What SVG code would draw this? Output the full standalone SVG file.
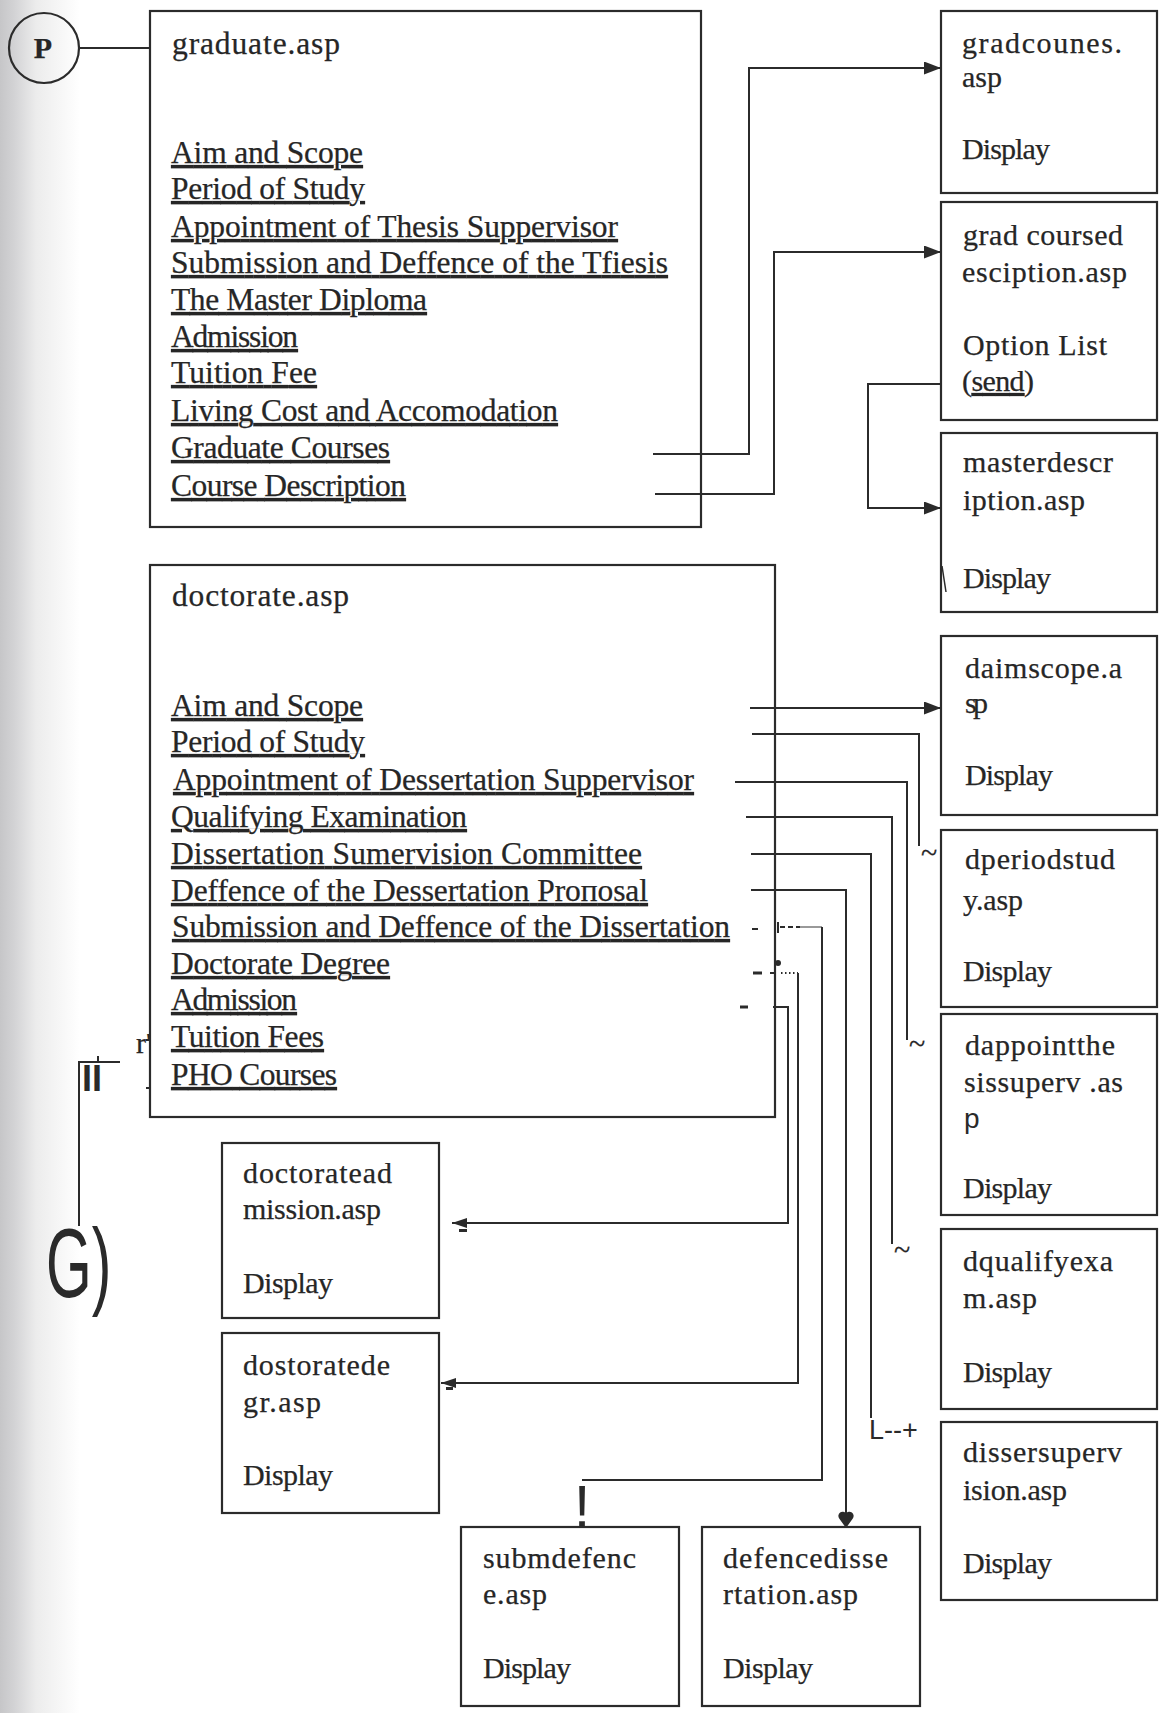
<svg xmlns="http://www.w3.org/2000/svg" width="1160" height="1713" viewBox="0 0 1160 1713">
  <defs>
    <linearGradient id="edge" x1="0" y1="0" x2="1" y2="0">
      <stop offset="0" stop-color="#c6c6c8"/>
      <stop offset="0.18" stop-color="#d3d3d5"/>
      <stop offset="0.45" stop-color="#ececec"/>
      <stop offset="1" stop-color="#ffffff"/>
    </linearGradient>
    <marker id="arr" markerUnits="userSpaceOnUse" markerWidth="17" markerHeight="13" refX="17" refY="6.5" orient="auto">
      <path d="M0,0 L17,6.5 L0,13 Z" fill="#2b2b2b"/>
    </marker>
    <marker id="arrS" markerUnits="userSpaceOnUse" markerWidth="15" markerHeight="10" refX="15" refY="5" orient="auto">
      <path d="M0,0 L15,5 L0,10 Z" fill="#2b2b2b"/>
    </marker>
    <style>
      .box { fill: none; stroke: #2b2b2b; stroke-width: 2.2; }
      .wire { fill: none; stroke: #2b2b2b; stroke-width: 2; }
      .t { font-family: "Liberation Serif", "Times New Roman", serif; font-size: 30px; fill: #262626; stroke: #262626; stroke-width: 0.25; }
      .lb { font-size: 31.5px; }
      .u { text-decoration: underline; }
      .sans { font-family: "Liberation Sans", Arial, sans-serif; fill: #2a2a2a; }
    </style>
  </defs>

  <rect width="1160" height="1713" fill="#ffffff"/>
  <rect x="0" y="0" width="80" height="1713" fill="url(#edge)"/>

  <!-- connectors -->
  <g id="connectors">
    <path class="wire" d="M79,48 H150"/>
    <!-- graduate.asp links -->
    <path class="wire" d="M653,454 H749 V68 H941" marker-end="url(#arr)"/>
    <path class="wire" d="M655,494 H774 V252 H941" marker-end="url(#arr)"/>
    <path class="wire" d="M941,384 H868 V508 H941" marker-end="url(#arr)"/>

    <!-- doctorate.asp links -->
    <path class="wire" d="M750,708 H941" marker-end="url(#arr)"/>
    <path class="wire" d="M752,734 H919 V846"/>
    <text class="t" x="921" y="863" font-size="26">~</text>
    <path class="wire" d="M735,782 H907 V1040"/>
    <text class="t" x="909" y="1054" font-size="26">~</text>
    <path class="wire" d="M746,817 H892 V1244"/>
    <text class="t" x="894" y="1260" font-size="26">~</text>
    <path class="wire" d="M751,854 H871 V1418"/>
    <text class="sans" x="869" y="1439" font-size="27">L--+</text>
    <path class="wire" d="M751,890 H846 V1514"/>
    <path d="M846,1528 L839.2,1518.5 A3.9,3.9 0 1 1 846,1513.5 A3.9,3.9 0 1 1 852.8,1518.5 Z" fill="#2b2b2b"/>

    <path class="wire" d="M752,929 H758"/>
    <path class="wire" d="M778,922 V933"/>
    <path class="wire" d="M780,927 H800" stroke-dasharray="5 3"/>
    <path d="M800,927 H822" fill="none" stroke="#555" stroke-width="1.2"/>
    <path class="wire" d="M822,927 V1480 H582"/>
    <text class="sans" x="582" y="1527" font-size="60" text-anchor="middle">!</text>

    <path d="M753,973 H762" fill="none" stroke="#2b2b2b" stroke-width="3"/>
    <path class="wire" d="M770,973 H775"/>
    <circle cx="778" cy="963" r="3" fill="#2b2b2b"/>
    <path class="wire" d="M781,973 H798" stroke-dasharray="1.5 2.5"/>
    <path class="wire" d="M798,973 V1383 H441" marker-end="url(#arrS)"/>
    <path d="M446,1388.5 H453" stroke="#2b2b2b" stroke-width="3"/>

    <path d="M740,1007 H748" fill="none" stroke="#2b2b2b" stroke-width="3"/>
    <path class="wire" d="M773,1007 H788 V1223 H452" marker-end="url(#arrS)"/>
    <path d="M459,1230.5 H467" stroke="#2b2b2b" stroke-width="3"/>

    <!-- off-page link G -->
    <path class="wire" d="M78,1062 H120"/>
    <path class="wire" d="M98,1056 V1062"/>
    <path class="wire" d="M79,1062 V1226"/>
    <text class="sans" x="82" y="1091" font-size="36" font-weight="bold">II</text>
    <text class="sans" font-size="98" transform="translate(46,1297) scale(0.6,1)">G)</text>
    <text class="t" x="136" y="1053" font-size="13">r'</text>
    <path class="wire" d="M146,1040 H150 M146,1088 H150"/>
  </g>

  <!-- start marker P -->
  <g id="start-p">
    <circle cx="44" cy="48" r="35" fill="none" stroke="#2b2b2b" stroke-width="2.2"/>
    <text class="t" x="43" y="58" font-size="28" font-weight="bold" text-anchor="middle">P</text>
  </g>

  <g id="graduate">
    <rect class="box" x="150" y="11" width="551" height="516"/>
    <text class="t lb" x="172" y="54" textLength="168">graduate.asp</text>
    <text class="t lb u" x="171" y="163" textLength="192">Aim and Scope</text>
    <text class="t lb u" x="171" y="199" textLength="194">Period of Study</text>
    <text class="t lb u" x="171" y="237" textLength="447">Appointment of Thesis Suppervisor</text>
    <text class="t lb u" x="171" y="273" textLength="497">Submission and Deffence of the Tfiesis</text>
    <text class="t lb u" x="171" y="310" textLength="256">The Master Diploma</text>
    <text class="t lb u" x="171" y="347" textLength="127">Admission</text>
    <text class="t lb u" x="171" y="383" textLength="146">Tuition Fee</text>
    <text class="t lb u" x="171" y="421" textLength="387">Living Cost and Accomodation</text>
    <text class="t lb u" x="171" y="458" textLength="219">Graduate Courses</text>
    <text class="t lb u" x="171" y="496" textLength="235">Course Description</text>
  </g>

  <g id="doctorate">
    <rect class="box" x="150" y="565" width="625" height="552"/>
    <text class="t lb" x="172" y="606" textLength="177">doctorate.asp</text>
    <text class="t lb u" x="171" y="716" textLength="192">Aim and Scope</text>
    <text class="t lb u" x="171" y="752" textLength="194">Period of Study</text>
    <text class="t lb u" x="173" y="790" textLength="521">Appointment of Dessertation Suppervisor</text>
    <text class="t lb u" x="171" y="827" textLength="296">Qualifying Examination</text>
    <text class="t lb u" x="171" y="864" textLength="471">Dissertation Sumervision Committee</text>
    <text class="t lb u" x="171" y="901" textLength="477">Deffence of the Dessertation Proпosal</text>
    <text class="t lb u" x="172" y="937" textLength="558">Submission and Deffence of the Dissertation</text>
    <text class="t lb u" x="171" y="974" textLength="219">Doctorate Degree</text>
    <text class="t lb u" x="171" y="1010" textLength="126">Admission</text>
    <text class="t lb u" x="171" y="1047" textLength="153">Tuition Fees</text>
    <text class="t lb u" x="171" y="1085" textLength="166">PHO Courses</text>
  </g>

  <g id="gradcounes">
    <rect class="box" x="941" y="11" width="216" height="182"/>
    <text class="t" x="962" y="53" textLength="160">gradcounes.</text>
    <text class="t" x="962" y="87" textLength="40">asp</text>
    <text class="t" x="962" y="159" textLength="88">Display</text>
  </g>

  <g id="gradcoursedesciption">
    <rect class="box" x="941" y="202" width="216" height="218"/>
    <text class="t" x="963" y="245" textLength="160">grad coursed</text>
    <text class="t" x="962" y="282" textLength="165">esciption.asp</text>
    <text class="t" x="963" y="355" textLength="144">Option List</text>
    <text class="t" x="962" y="391" textLength="72">(<tspan class="u">send</tspan>)</text>
  </g>

  <g id="masterdescription">
    <rect class="box" x="941" y="433" width="216" height="179"/>
    <text class="t" x="963" y="472" textLength="150">masterdescr</text>
    <text class="t" x="963" y="510" textLength="122">iption.asp</text>
    <text class="t" x="963" y="588" textLength="88">Display</text>
    <path d="M942,566 L946,592" fill="none" stroke="#2b2b2b" stroke-width="1.5"/>
  </g>

  <g id="daimscope">
    <rect class="box" x="941" y="636" width="216" height="179"/>
    <text class="t" x="965" y="678" textLength="157">daimscope.a</text>
    <text class="t" x="965" y="713" textLength="23">sp</text>
    <text class="t" x="965" y="785" textLength="88">Display</text>
  </g>

  <g id="dperiodstudy">
    <rect class="box" x="941" y="830" width="216" height="177"/>
    <text class="t" x="965" y="869" textLength="150">dperiodstud</text>
    <text class="t" x="963" y="910" textLength="60">y.asp</text>
    <text class="t" x="963" y="981" textLength="89">Display</text>
  </g>

  <g id="dappointthesissuperv">
    <rect class="box" x="941" y="1014" width="216" height="201"/>
    <text class="t" x="965" y="1055" textLength="150">dappointthe</text>
    <text class="t" x="964" y="1092" textLength="159">sissuperv .as</text>
    <text class="sans" x="964" y="1128" font-size="28">p</text>
    <text class="t" x="963" y="1198" textLength="89">Display</text>
  </g>

  <g id="dqualifyexam">
    <rect class="box" x="941" y="1229" width="216" height="180"/>
    <text class="t" x="963" y="1271" textLength="150">dqualifyexa</text>
    <text class="t" x="963" y="1308" textLength="74">m.asp</text>
    <text class="t" x="963" y="1382" textLength="89">Display</text>
  </g>

  <g id="dissersupervision">
    <rect class="box" x="941" y="1422" width="216" height="178"/>
    <text class="t" x="963" y="1462" textLength="159">dissersuperv</text>
    <text class="t" x="963" y="1500" textLength="104">ision.asp</text>
    <text class="t" x="963" y="1573" textLength="89">Display</text>
  </g>

  <g id="doctorateadmission">
    <rect class="box" x="222" y="1143" width="217" height="175"/>
    <text class="t" x="243" y="1183" textLength="149">doctoratead</text>
    <text class="t" x="243" y="1219" textLength="138">mission.asp</text>
    <text class="t" x="243" y="1293" textLength="90">Display</text>
  </g>

  <g id="dostoratedegr">
    <rect class="box" x="222" y="1333" width="217" height="180"/>
    <text class="t" x="243" y="1375" textLength="147">dostoratede</text>
    <text class="t" x="243" y="1412" textLength="78">gr.asp</text>
    <text class="t" x="243" y="1485" textLength="90">Display</text>
  </g>

  <g id="submdefence">
    <rect class="box" x="461" y="1527" width="218" height="179"/>
    <text class="t" x="483" y="1568" textLength="153">submdefenc</text>
    <text class="t" x="483" y="1604" textLength="64">e.asp</text>
    <text class="t" x="483" y="1678" textLength="88">Display</text>
  </g>

  <g id="defencedissertation">
    <rect class="box" x="702" y="1527" width="218" height="179"/>
    <text class="t" x="723" y="1568" textLength="165">defencedisse</text>
    <text class="t" x="723" y="1604" textLength="135">rtation.asp</text>
    <text class="t" x="723" y="1678" textLength="90">Display</text>
  </g>
</svg>
